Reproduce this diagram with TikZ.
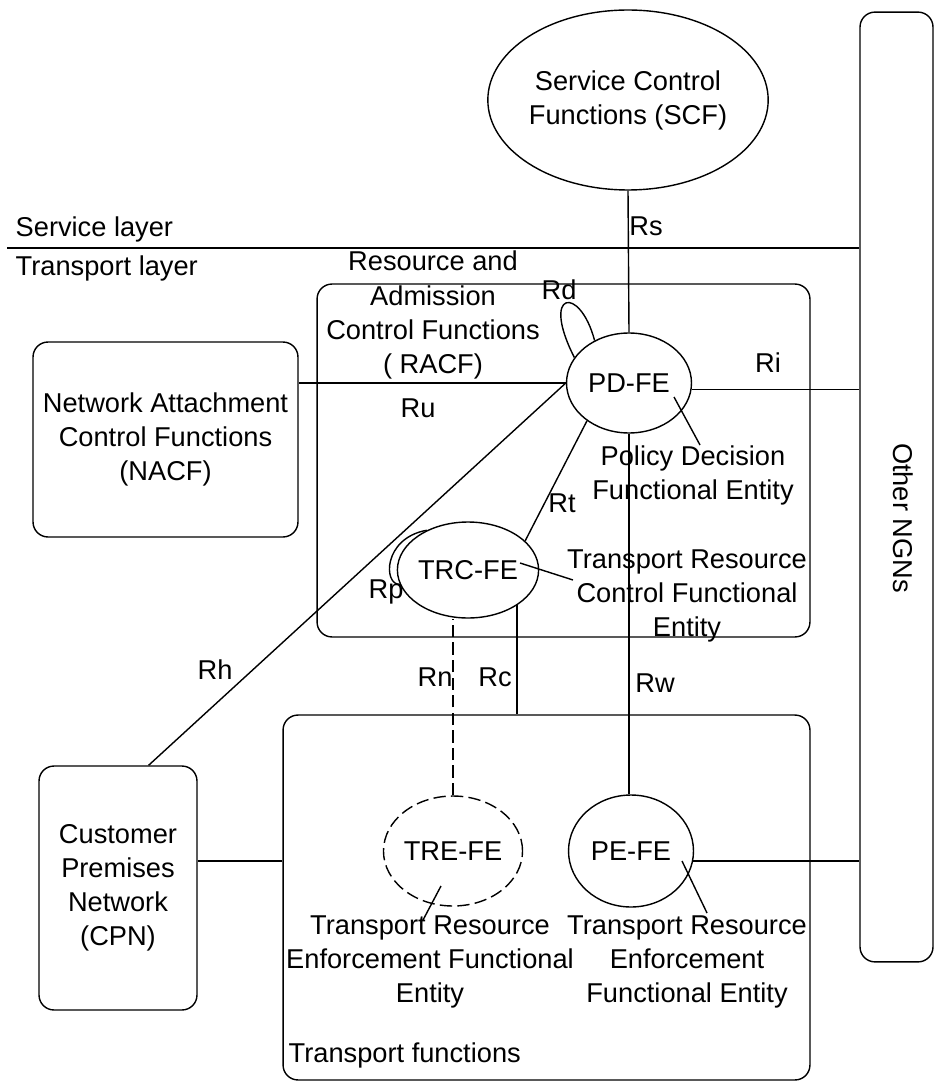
\documentclass[tikz,border=0pt]{standalone}
\usepackage{fontspec}
\setmainfont{Liberation Sans}
\usetikzlibrary{shapes.geometric}

\tikzset{
  box/.style={draw, rounded corners=0.3cm, inner sep=0pt},
  fe/.style={draw, ellipse, inner sep=0pt},
  txt/.style={font=\fontsize{15.5}{19.4}\selectfont, align=center, inner sep=0pt},
  longdash/.style={dash pattern=on 7pt off 3pt},
}

\begin{document}
\begin{tikzpicture}[x=0.02cm, y=-0.02cm, line width=0.8pt]
        \useasboundingbox (0,0) rectangle (935,1084);

        \node[box, minimum width=1.46cm, minimum height=19cm] (ngn) at (896.5,487) {};
        \node[txt, rotate=-90] (ngntext) at (903,518) {Other NGNs};

        \node[fe, txt, minimum width=5.28cm, minimum height=3.6cm] (scf) at (628,100) {Service Control\\Functions (SCF)};

        \coordinate (sl) at (7,248);
        \draw (sl) -- (sl -| ngn.west);
        \node[txt, anchor=west] (service) at (15,229) {Service layer};
        \node[txt, anchor=west] (transport) at (15,268) {Transport layer};

        \node[box, minimum width=9.86cm, minimum height=7.06cm] (racf) at (563.5,460.5) {};
        \node[txt] (racftext) at (433,315) {Resource and\\Admission\\Control Functions\\( RACF)};
        \node[box, txt, minimum width=5.3cm, minimum height=3.9cm] (nacf) at (165.5,439.5) {Network Attachment\\Control Functions\\(NACF)};
        \node[box, minimum width=10.54cm, minimum height=7.3cm] (tf) at (546.5,897.5) {};
        \node[txt, anchor=west] (tftext) at (288,1055) {Transport functions};
        \node[box, txt, minimum width=3.16cm, minimum height=4.88cm] (cpn) at (118,888) {Customer\\Premises\\Network\\(CPN)};

        \node[fe, txt, minimum width=2.5cm, minimum height=2cm] (pdfe) at (629,383) {PD-FE};
        \node[fe, txt, minimum width=2.44cm, minimum height=1.92cm] (trcfe) at (468,570) {TRC-FE};
        \node[fe, txt, longdash, minimum width=2.4cm, minimum height=2.2cm] (trefe) at (453,851) {TRE-FE};
        \node[fe, txt, minimum width=2.5cm, minimum height=2.24cm] (pefe) at (631,851) {PE-FE};

        \node[txt] (pdtext) at (693,475) {Policy Decision\\Functional Entity};
        \node[txt] (trctext) at (687,596) {Transport Resource\\Control Functional\\Entity};
        \node[txt] (tretext) at (430,962) {Transport Resource\\Enforcement Functional\\Entity};
        \node[txt] (petext) at (687,962) {Transport Resource\\Enforcement\\Functional Entity};

        \coordinate (pdtip) at (700,445);
        \coordinate (trctip) at (573,580);
        \coordinate (tretip) at (423,920);
        \coordinate (petip) at (707,913);
        \draw ([shift={(45,14)}]pdfe.center) -- (pdtip);
        \draw ([shift={(52,-7)}]trcfe.center) -- (trctip);
        \draw ([shift={(-12,35)}]trefe.center) -- (tretip);
        \draw ([shift={(51,10)}]pefe.center) -- (petip);

        \draw (scf.south) -- (pdfe.north);
        \draw (pdfe.west) -- (pdfe.west -| nacf.east);
        \draw (pdfe.-6) -- (pdfe.-6 -| ngn.west);
        \draw (pdfe.west) -- (cpn.76);
        \draw (pdfe.222) -- (trcfe.27);
        \draw (pdfe.south) -- (pdfe.south |- pefe.north);
        \draw (trcfe.-36) -- (trcfe.-36 |- tf.north);
        \draw[longdash] (trefe.north) -- (trefe.north |- trcfe.south);
        \draw (pefe.-9) -- (pefe.-9 -| ngn.west);
        \draw (cpn.east |- pefe.-9) -- (tf.west |- pefe.-9);
        \draw (pdfe.129) .. controls (580,285) and (540,290) .. (pdfe.155);
        \draw (trcfe.136) .. controls (383,538) and (383,585) .. (trcfe.192);

        \node[txt] (rs) at (646,226) {Rs};
        \node[txt] (rd) at (559,290) {Rd};
        \node[txt] (ru) at (418,408) {Ru};
        \node[txt] (ri) at (768,363) {Ri};
        \node[txt] (rt) at (562,503) {Rt};
        \node[txt] (rp) at (386,592) {Rp};
        \node[txt] (rh) at (215,670) {Rh};
        \node[txt] (rn) at (435,677) {Rn};
        \node[txt] (rc) at (495,677) {Rc};
        \node[txt] (rw) at (655,683) {Rw};
    \end{tikzpicture}
\end{document}
